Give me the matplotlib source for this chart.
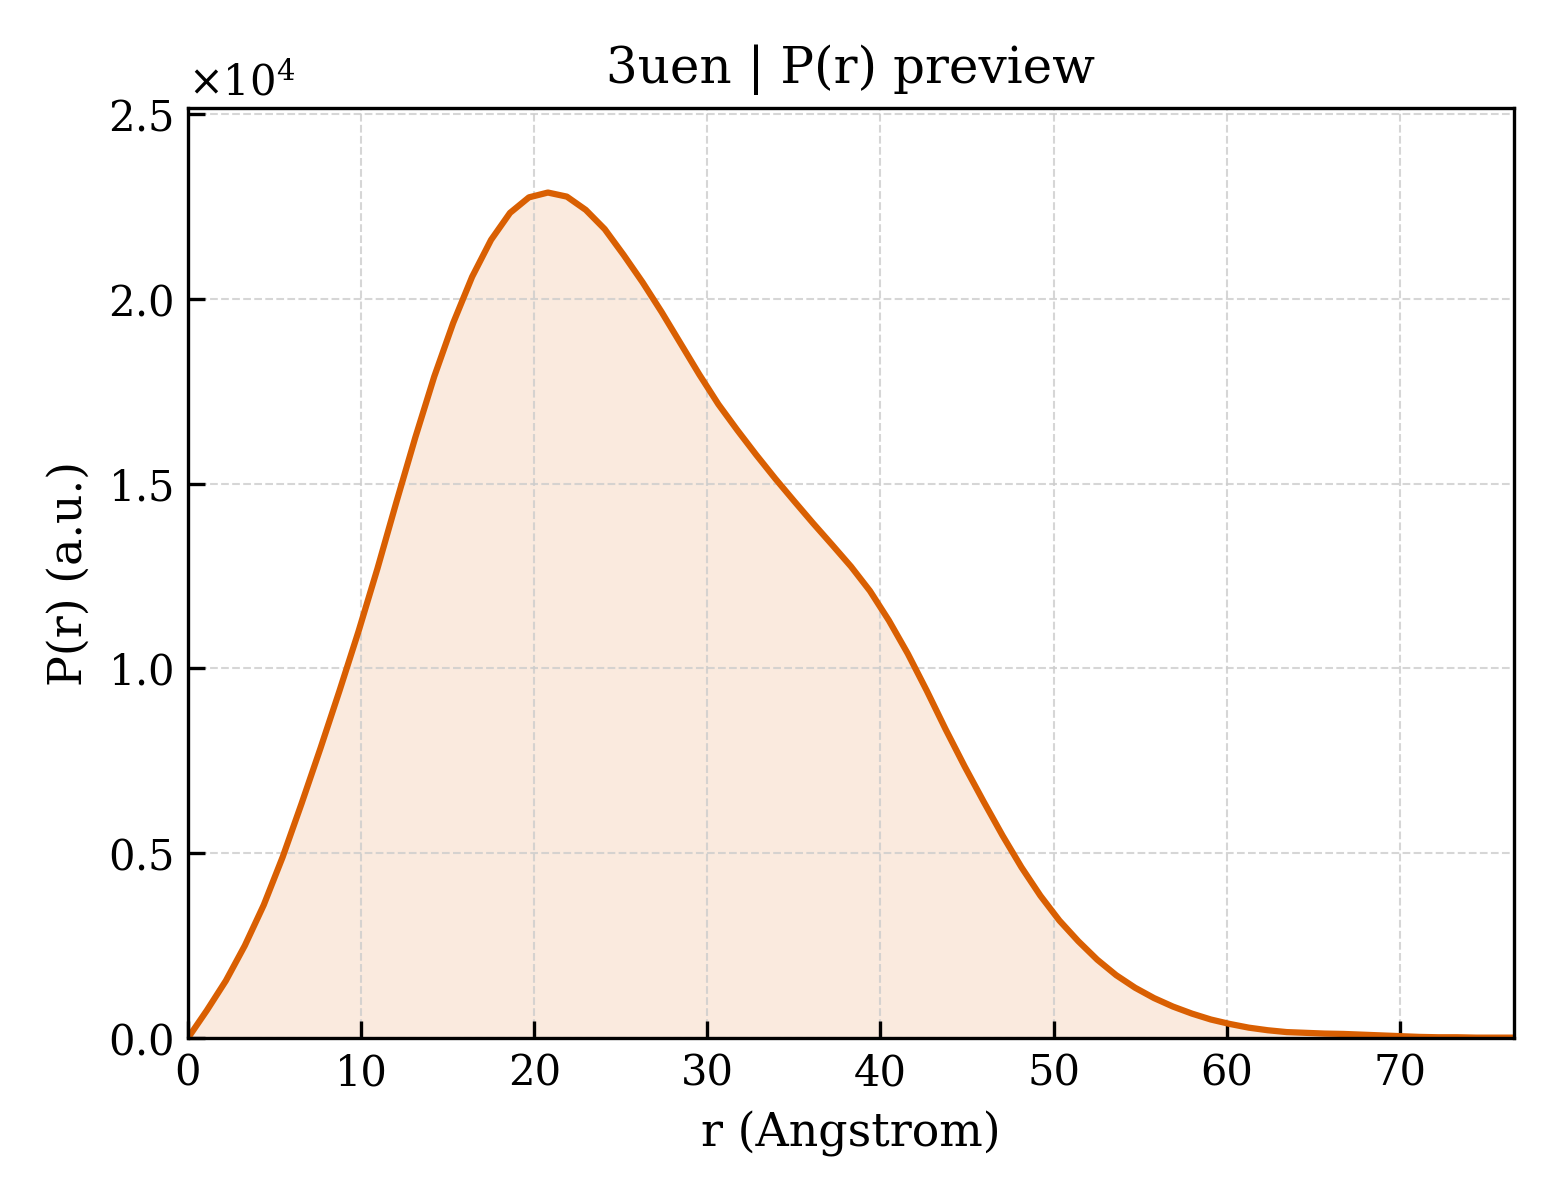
import numpy as np
import matplotlib
matplotlib.use("Agg")
import matplotlib.pyplot as plt

R_MAX = 76.6
r = np.linspace(0, R_MAX, 71)
pr = np.array([
    0.000, 0.075, 0.155, 0.250, 0.360, 0.490, 0.635, 0.785, 0.940, 1.100,
    1.270, 1.450, 1.625, 1.790, 1.935, 2.060, 2.160, 2.233, 2.275, 2.288,
    2.277, 2.241, 2.189, 2.119, 2.045, 1.965, 1.880, 1.795, 1.715, 1.645,
    1.578, 1.514, 1.453, 1.393, 1.335, 1.276, 1.210, 1.130, 1.040, 0.940,
    0.835, 0.735, 0.640, 0.548, 0.462, 0.385, 0.318, 0.262, 0.212, 0.170,
    0.136, 0.108, 0.085, 0.066, 0.050, 0.038, 0.028, 0.021, 0.016, 0.014,
    0.012, 0.011, 0.009, 0.007, 0.005, 0.003, 0.002, 0.002, 0.001, 0.001,
    0.001,
]) * 1e4

title = "3uen | P(r) preview"
color = "#D95F02"

plt.rcParams["font.family"] = "DejaVu Serif"
plt.rcParams["mathtext.fontset"] = "dejavuserif"

fig = plt.figure(figsize=(5.2, 4), dpi=300)
ax = fig.add_axes([0.1205, 0.135, 0.85, 0.775])

ax.plot(r, pr, color=color, lw=1.5)
ax.fill_between(r, pr, 0, color=color, alpha=0.13, lw=0)

ax.set_xlim(0, R_MAX)
ax.set_ylim(0, pr.max() * 1.1)
ax.ticklabel_format(axis="y", style="sci", scilimits=(0, 0), useMathText=True)

ax.grid(True, ls="--", lw=0.5, color="#cccccc", alpha=0.8)
ax.tick_params(direction="in", labelsize=10, length=4, width=0.8)
ax.set_xlabel("r (Angstrom)", fontsize=11)
ax.set_ylabel("P(r) (a.u.)", fontsize=11)
ax.set_title(title, fontsize=12)

fig.savefig("out.png", dpi=300)
